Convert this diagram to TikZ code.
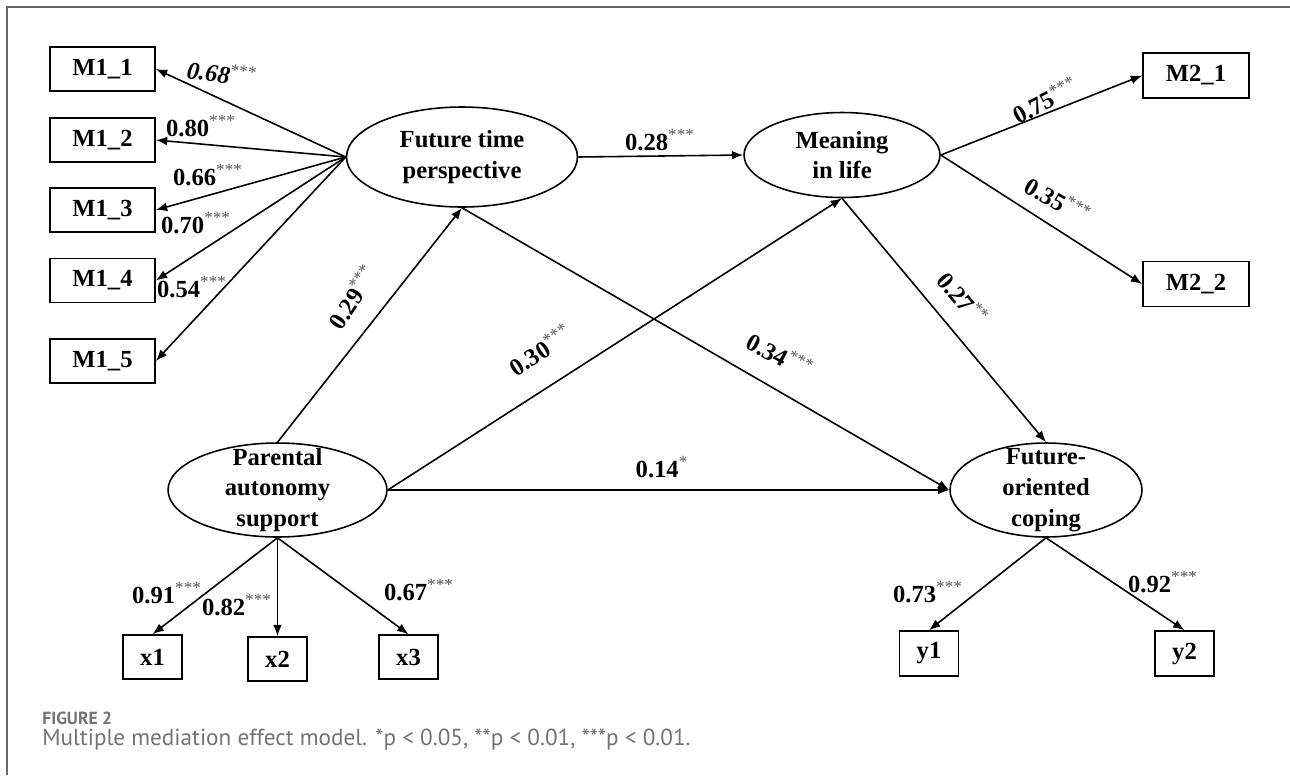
\documentclass[tikz,border=0pt]{standalone}
\usepackage{fontspec}
\setmainfont{Liberation Serif}
\newfontfamily\capfont{PT Sans}
\usetikzlibrary{arrows.meta,shapes.geometric}

\definecolor{stargray}{gray}{0.35}
\definecolor{framegray}{gray}{0.4}
\definecolor{capgray}{gray}{0.45}
\newcommand{\coef}[2]{#1\textsuperscript{\textcolor{stargray}{\mdseries #2}}}

\tikzset{
  latent/.style={draw, ellipse, line width=0.9pt, inner sep=0pt, align=center, font=\bfseries\fontsize{14}{17.5}\selectfont},
  obs/.style={draw, rectangle, line width=0.9pt, inner sep=0pt, minimum height=0.88cm, font=\bfseries\fontsize{14}{17}\selectfont},
  effect/.style={->, line width=0.9pt},
  coeflabel/.style={inner sep=1pt, font=\bfseries\fontsize{14}{17}\selectfont},
}

\begin{document}
\begin{tikzpicture}[x=0.02cm, y=-0.02cm, >={Latex[length=6.5pt,width=5pt]}]
    \useasboundingbox (0,0) rectangle (1290,775);
    \draw[framegray, line width=0.8pt] (7,775)--(7,7)--(1290,7);

    % latent variables
    \node[latent, minimum width=4.62cm, minimum height=2.0cm] (ftp) at (462,157) {Future time\\perspective};
    \node[latent, minimum width=3.92cm, minimum height=1.7cm] (mil) at (842,155) {Meaning\\in life};
    \node[latent, minimum width=4.38cm, minimum height=1.88cm, inner ysep=-5pt] (pas) at (277.5,490) {Parental\\autonomy\\support};
    \node[latent, minimum width=3.84cm, minimum height=1.88cm, inner ysep=-5pt] (foc) at (1046,490) {Future-\\oriented\\coping};

    % indicators
    \node[obs, minimum width=2.1cm] (m11) at (102.5,69) {M1\_1};
    \node[obs, minimum width=2.1cm] (m12) at (102.5,140) {M1\_2};
    \node[obs, minimum width=2.1cm] (m13) at (102.5,210) {M1\_3};
    \node[obs, minimum width=2.1cm] (m14) at (102.5,280.5) {M1\_4};
    \node[obs, minimum width=2.1cm] (m15) at (102.5,361) {M1\_5};
    \node[obs, minimum width=2.12cm, minimum height=0.9cm] (m21) at (1196,75.5) {M2\_1};
    \node[obs, minimum width=2.12cm, minimum height=0.9cm] (m22) at (1196,284) {M2\_2};
    \node[obs, minimum width=1.18cm] (x1) at (152.5,657) {x1};
    \node[obs, minimum width=1.18cm] (x2) at (277.5,659) {x2};
    \node[obs, minimum width=1.18cm] (x3) at (408.5,657) {x3};
    \node[obs, minimum width=1.18cm, minimum height=0.9cm] (y1) at (929,653.5) {y1};
    \node[obs, minimum width=1.18cm, minimum height=0.9cm] (y2) at (1184.5,653.5) {y2};

    % measurement paths
    \draw[effect] (ftp.west)--(m11.east);
    \draw[effect] (ftp.west)--(m12.east);
    \draw[effect] (ftp.west)--(m13.east);
    \draw[effect] (ftp.west)--(m14.east);
    \draw[effect] (ftp.west)--(m15.east);
    \draw[effect] (mil.east)--(m21.west);
    \draw[effect] (mil.east)--(m22.west);
    \draw[effect] (pas.south)--(x1.north);
    \draw[effect] (pas.south)--(x2.north);
    \draw[effect] (pas.south)--(x3.north);
    \draw[effect] (foc.south)--(y1.north);
    \draw[effect] (foc.south)--(y2.north);

    % structural paths
    \draw[effect] (ftp.east)--(mil.west);
    \draw[effect] (pas.north)--(ftp.south);
    \draw[effect] (pas.east)--(mil.south);
    \draw[effect] (pas.east)--(foc.west);
    \draw[effect] (ftp.south)--(foc.west);
    \draw[effect] (mil.south)--(foc.north);

    % coefficients
    \node[coeflabel, rotate=-8] (c68) at (222,73) {\coef{\textit{0.68}}{***}};
    \node[coeflabel] (c80) at (201,126) {\coef{0.80}{***}};
    \node[coeflabel] (c66) at (208,175) {\coef{0.66}{***}};
    \node[coeflabel] (c70) at (196,223) {\coef{0.70}{***}};
    \node[coeflabel] (c54) at (192,287) {\coef{0.54}{***}};
    \node[coeflabel] (c28) at (660,140) {\coef{0.28}{***}};
    \node[coeflabel, rotate=57] (c29) at (352,297) {\coef{0.29}{***}};
    \node[coeflabel, rotate=33] (c30) at (540,350) {\coef{0.30}{***}};
    \node[coeflabel, rotate=-28] (c34) at (780,355) {\coef{0.34}{***}};
    \node[coeflabel] (c14) at (662,467) {\coef{0.14}{*}};
    \node[coeflabel, rotate=27] (c75) at (1045,100) {\coef{0.75}{***}};
    \node[coeflabel, rotate=-30] (c35) at (1058,200) {\coef{0.35}{***}};
    \node[coeflabel, rotate=-50] (c27) at (963,298) {\coef{0.27}{**}};
    \node[coeflabel] (c91) at (167,593) {\coef{0.91}{***}};
    \node[coeflabel] (c82) at (237,605) {\coef{0.82}{***}};
    \node[coeflabel] (c67) at (419,590) {\coef{0.67}{***}};
    \node[coeflabel] (c73) at (928,592) {\coef{0.73}{***}};
    \node[coeflabel] (c92) at (1163,582) {\coef{0.92}{***}};

    % caption
    \node[anchor=west, inner sep=0pt, text=capgray, font=\capfont\bfseries\fontsize{10}{12}\selectfont] (fig) at (42,718) {FIGURE 2};
    \node[anchor=west, inner sep=0pt, text=capgray, font=\capfont\fontsize{13.2}{15}\selectfont] (cap) at (42,740) {Multiple mediation effect model. *p < 0.05, **p < 0.01, ***p < 0.01.};
\end{tikzpicture}
\end{document}
